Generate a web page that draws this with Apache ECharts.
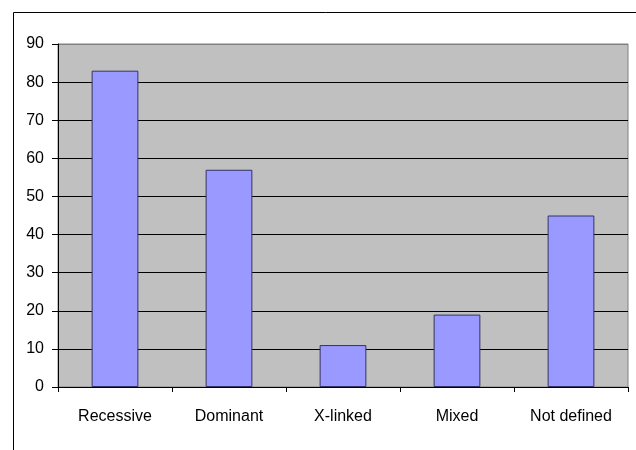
<!DOCTYPE html>
<html>
<head>
<meta charset="utf-8">
<script src="https://cdn.jsdelivr.net/npm/echarts@6/dist/echarts.min.js"></script>
<style>html,body{margin:0;padding:0;background:#fff;}#chart{width:636px;height:450px;}</style>
</head>
<body>
<div id="chart"></div>
<script>
const categories = ['Recessive', 'Dominant', 'X-linked', 'Mixed', 'Not defined'];
const values = [83, 57, 11, 19, 45];
const yMin = 0, yMax = 90, yStep = 10;

const chart = echarts.init(document.getElementById('chart'), null, {renderer: 'canvas'});
const font = 'Liberation Sans, Arial, sans-serif';
const splitColors = [];
for (let v = yMin; v <= yMax; v += yStep) splitColors.push(v === yMax ? '#808080' : '#000000');

chart.setOption({
  animation: false,
  backgroundColor: '#ffffff',
  graphic: [{
    type: 'rect', left: 11, top: 10, silent: true, z: 100,
    shape: {width: 700, height: 500},
    style: {fill: 'none', stroke: '#000000', lineWidth: 1}
  }],
  grid: {
    left: 58, right: 8, top: 44, bottom: 63,
    show: true, backgroundColor: '#C0C0C0', borderColor: '#808080', borderWidth: 1
  },
  xAxis: {
    type: 'category', data: categories,
    axisLine: {lineStyle: {color: '#000', width: 1}},
    axisTick: {show: true, length: 5, inside: false, lineStyle: {color: '#000'}},
    axisLabel: {color: '#000', fontFamily: font, fontSize: 16, margin: 22}
  },
  yAxis: {
    type: 'value', min: yMin, max: yMax, interval: yStep,
    axisLine: {show: true, lineStyle: {color: '#000', width: 1}},
    axisTick: {show: true, length: 6, lineStyle: {color: '#000'}},
    axisLabel: {color: '#000', fontFamily: font, fontSize: 16, margin: 14},
    splitLine: {show: true, lineStyle: {color: splitColors, width: 1}}
  },
  series: [{
    type: 'bar', data: values, barWidth: '41%',
    itemStyle: {color: '#9999FF', borderColor: '#333366', borderWidth: 1}
  }]
});
</script>
</body>
</html>
